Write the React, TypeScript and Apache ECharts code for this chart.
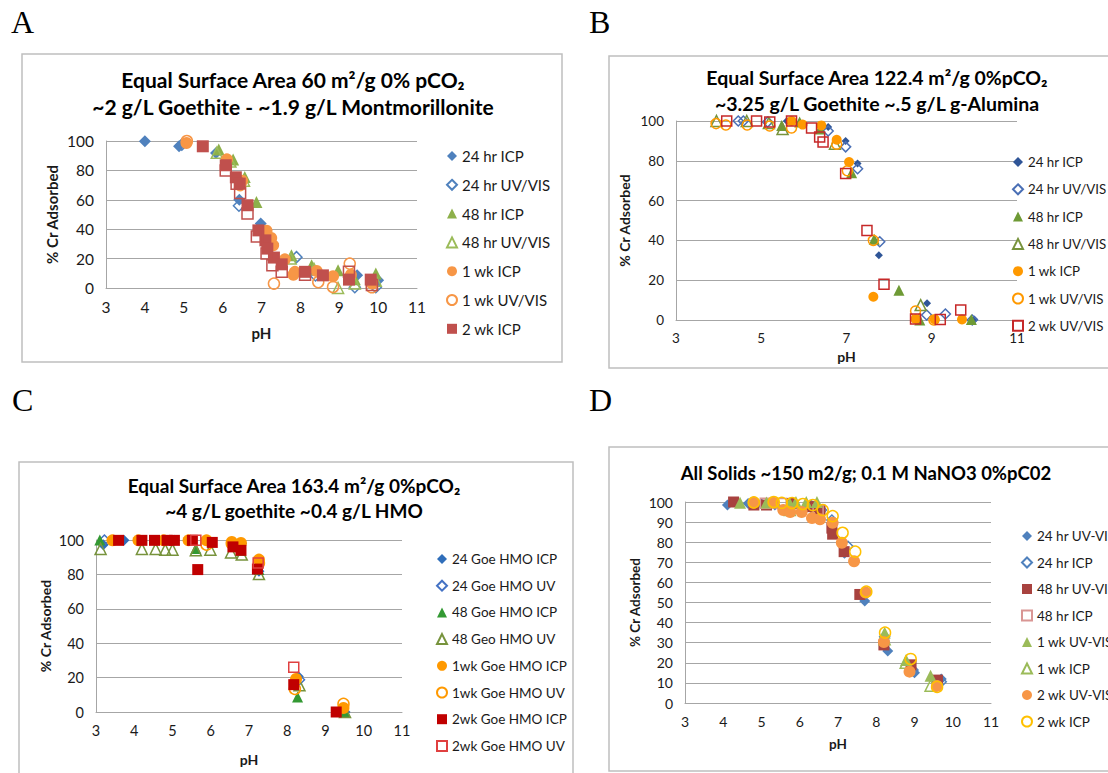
import React, { useEffect, useRef } from "react";
import * as echarts from "echarts";

// ---------- Panel A data (pH, % Cr adsorbed) ----------
const a24hrIcp = [[4.0, 99.8], [4.88, 96.4], [5.83, 91.9], [6.43, 60], [6.98, 43.8], [7.3, 30], [8.3, 12], [9.46, 8.6], [10.0, 5.2]];
const a24hrUv = [[4.95, 97.5], [6.42, 56], [7.9, 21], [8.39, 8.5], [9.4, 0.5], [9.94, 0.5]];
const a48hrIcp = [[5.9, 94.3], [6.27, 87.5], [6.57, 75.5], [6.87, 58.5], [7.77, 22.2], [8.29, 15.4], [8.97, 12], [9.4, 6], [9.94, 9.8]];
const a48hrUv = [[5.85, 92], [6.2, 86], [6.55, 73], [7.75, 20], [8.35, 13], [8.97, 0], [9.4, 3], [9.94, 5]];
const a1wkIcp = [[5.07, 98.6], [6.11, 87.5], [6.5, 73], [7.13, 39], [7.25, 34], [7.3, 29], [7.6, 19.5], [7.82, 9], [7.86, 11], [8.42, 11.6], [8.84, 8], [9.3, 9], [9.85, 3]];
const a1wkUv = [[5.08, 100], [6.45, 70], [7.32, 3], [8.46, 4], [8.84, 0.7], [9.27, 16.6], [9.84, 0.5]];
const a2wkIcp = [[5.49, 96.4], [6.08, 83.5], [6.34, 75.3], [6.44, 71], [6.64, 56.3], [6.92, 39.2], [7.1, 32.4], [7.15, 26.8], [7.32, 20.7], [7.52, 16.1], [8.12, 11], [8.58, 8.6], [9.25, 5.7], [9.81, 5.7]];
const a2wkUv = [[6.08, 80], [6.36, 71], [6.45, 64.6], [6.64, 50.7], [6.88, 35], [7.13, 23.5], [7.28, 15.4], [7.52, 11], [8.12, 9], [9.25, 11], [9.84, 2]];

// ---------- Panel B data ----------
const b24hrIcp = [[5.6, 100], [6.57, 97], [6.98, 90], [7.26, 78.6], [7.76, 32.6], [8.89, 8.4], [10.0, 0.3]];
const b24hrUv = [[4.46, 100], [4.58, 100], [5.15, 99.5], [6.57, 95], [6.98, 87], [7.26, 76], [7.78, 39.3], [8.88, 2.5], [9.32, 3], [9.95, 0]];
const b48hrIcp = [[5.48, 97.8], [5.9, 99.5], [6.38, 96], [7.12, 74], [7.65, 40.6], [8.23, 15], [8.72, 0], [9.93, 0.3]];
const b48hrUv = [[3.95, 100], [4.66, 100], [5.18, 99], [5.5, 96], [6.73, 88.6], [8.74, 7.5]];
const b1wkIcp = [[5.71, 100], [5.97, 98.2], [6.41, 97.8], [6.77, 90.6], [7.06, 79.4], [7.63, 11.7], [8.62, 0.5], [9.07, 0.3], [9.71, 0.3]];
const b1wkUv = [[3.94, 98.7], [4.17, 98], [4.67, 98], [5.2, 97.5], [5.71, 96.5], [6.77, 88.3], [7.02, 75], [7.63, 40], [8.62, 4.5], [9.05, 0]];
const b2wkUv = [[4.19, 100], [4.89, 100], [5.2, 99.5], [5.71, 100], [6.18, 96.5], [6.37, 92], [6.45, 89.5], [6.98, 73.6], [7.48, 45], [7.88, 18], [8.62, 0.5], [9.2, 0.3], [9.68, 5]];

// ---------- Panel C data ----------
const c24Icp = [[3.19, 97.3], [3.73, 99.8], [5.05, 99.8], [6.55, 97.3], [6.8, 98], [7.26, 81.8], [8.29, 20.7], [9.51, 0]];
const c24Uv = [[3.22, 100], [6.79, 98], [8.32, 18.8], [9.47, 0.4]];
const c48Icp = [[3.1, 100], [5.61, 95], [6.79, 94], [7.26, 82.8], [8.27, 8.7], [9.51, 0]];
const c48Uv = [[3.12, 94.8], [4.2, 94.8], [4.56, 94.8], [4.81, 94.4], [5.0, 94.4], [5.61, 94], [5.99, 94.4], [6.53, 92.8], [6.81, 91.5], [7.26, 80.2], [8.32, 15.5], [9.51, 0]];
const c1wkIcp = [[3.43, 99.8], [4.11, 99.8], [4.77, 99.8], [5.42, 99.8], [5.89, 99.8], [6.55, 98.8], [6.79, 98.3], [7.26, 88.6], [8.23, 19.2], [9.47, 2.3]];
const c1wkUv = [[5.89, 97.3], [6.55, 98], [7.26, 86.6], [8.2, 13.4], [9.47, 4.7]];
const c2wkIcp = [[3.59, 99.8], [4.2, 99.8], [4.53, 99.8], [4.86, 99.8], [5.05, 99.8], [5.52, 99.8], [5.66, 82.8], [6.04, 98.6], [6.58, 96], [6.79, 94], [7.22, 83.1], [8.17, 15.9], [9.28, 0]];
const c2wkUv = [[5.61, 99.8], [7.24, 86.6], [8.17, 26]];

// ---------- Panel D data ----------
const d24hrUvVis = [[4.11, 98.5], [4.65, 99.3], [5.0, 99], [5.35, 98.5], [5.8, 98], [6.3, 97], [7.17, 74.5], [7.7, 50.7], [8.3, 25.9], [9.0, 15], [9.7, 12]];
const d24hrIcp = [[4.83, 99.3], [6.3, 98.2], [6.57, 96], [6.84, 91], [7.26, 78], [8.22, 33], [8.96, 16.4], [9.7, 10.6]];
const d48hrUvVis = [[4.27, 100], [4.8, 98.5], [5.13, 98.5], [5.78, 99.3], [6.3, 97.7], [6.53, 96], [6.84, 87], [6.86, 84], [7.16, 75.3], [7.57, 54], [8.2, 28.9], [8.91, 19], [9.6, 11.4]];
const d48hrIcp = [[5.1, 99.4], [5.52, 99.3], [6.48, 96]];
const d1wkUvVis = [[4.44, 99.6], [5.13, 99.8], [5.74, 99.3], [5.9, 100], [6.17, 100], [6.45, 100], [8.22, 35], [8.78, 21.4], [9.42, 13.6]];
const d1wkIcp = [[5.74, 96], [8.22, 31.7], [8.77, 20], [9.42, 8.6]];
const d2wkUvVis = [[4.79, 99.6], [5.31, 99.6], [5.57, 96], [5.75, 95], [6.05, 95], [6.32, 92], [6.53, 91.4], [6.86, 89.7], [7.1, 79.7], [7.42, 70.5], [7.72, 55], [8.2, 30.3], [8.87, 15.6], [9.59, 8.5]];
const d2wkIcp = [[4.8, 99.8], [5.32, 100], [5.53, 99.6], [5.8, 99.5], [6.08, 99], [6.34, 98.5], [6.6, 96], [6.86, 93], [7.12, 84.7], [7.45, 75.3], [7.74, 55.4], [8.23, 35], [8.9, 21.9], [9.59, 8]];

// ---------- Labels ----------
const aNames = ["24 hr ICP", "24 hr UV/VIS", "48 hr ICP", "48 hr UV/VIS", "1 wk ICP", "1 wk UV/VIS", "2 wk ICP", "2 wk UV/VIS"];
const bNames = ["24 hr ICP", "24 hr UV/VIS", "48 hr ICP", "48 hr UV/VIS", "1 wk ICP", "1 wk UV/VIS", "2 wk UV/VIS"];
const cNames = ["24 Goe HMO ICP", "24 Goe HMO UV", "48 Goe HMO ICP", "48 Geo HMO UV", "1wk Goe HMO ICP", "1wk Goe HMO UV", "2wk Goe HMO ICP", "2wk Goe HMO UV"];
const dNames = ["24 hr UV-VIS", "24 hr ICP", "48 hr UV-VIS", "48 hr ICP", "1 wk UV-VIS", "1 wk ICP", "2 wk UV-VIS", "2 wk ICP"];

const titleA = "Equal Surface Area 60 m²/g 0% pCO₂\n~2 g/L Goethite - ~1.9 g/L Montmorillonite";
const titleB = "Equal Surface Area 122.4 m²/g 0%pCO₂\n~3.25 g/L Goethite ~.5 g/L g-Alumina";
const titleC = "Equal Surface Area 163.4 m²/g 0%pCO₂\n~4 g/L goethite ~0.4 g/L HMO";
const titleD = "All Solids ~150 m2/g; 0.1 M NaNO3 0%pC02";

const FONT = "Lato, 'Open Sans', sans-serif";
const GRID = "#a6a6a6";
const TXT = "#1a1a1a";

function sc(panel: string, name: string, idx: number, data: number[][], symbol: string, color: string, filled: boolean, size: number) {
  return {
    type: "scatter",
    name: panel + "|" + name,
    xAxisIndex: idx,
    yAxisIndex: idx,
    data,
    symbol,
    symbolSize: size,
    clip: false,
    itemStyle: filled
      ? { color, borderWidth: 0, opacity: 1 }
      : { color: "rgba(255,255,255,0)", borderColor: color, borderWidth: 1.5, opacity: 1 },
    emphasis: { disabled: true },
  };
}

function axes(idx: number, yint: number, tickFs: number, xGap: number, yGap: number, nameFs: number, oddOnly: boolean) {
  const x = {
    gridIndex: idx, type: "value", min: 3, max: 11, interval: 1,
    axisLine: { show: true, onZero: false, lineStyle: { color: GRID, width: 1 } },
    axisTick: { show: false }, splitLine: { show: false },
    axisLabel: {
      fontSize: tickFs, color: TXT, fontFamily: FONT, margin: 11,
      formatter: (v: number) => (oddOnly && v % 2 === 0 ? "" : String(v)),
    },
    name: "pH", nameLocation: "middle", nameGap: xGap,
    nameTextStyle: { fontSize: nameFs, fontWeight: "bold", fontFamily: FONT, color: TXT },
  };
  const y = {
    gridIndex: idx, type: "value", min: 0, max: 100, interval: yint,
    axisLine: { show: true, lineStyle: { color: GRID, width: 1 } },
    axisTick: { show: false },
    splitLine: { show: true, lineStyle: { color: GRID, width: 1 } },
    axisLabel: { fontSize: tickFs, color: TXT, fontFamily: FONT, margin: 12 },
    name: "% Cr Adsorbed", nameLocation: "middle", nameGap: yGap,
    nameTextStyle: { fontSize: nameFs, fontWeight: "bold", fontFamily: FONT, color: TXT },
  };
  return { x, y };
}

function legend(panel: string, names: string[], left: number, top: number, gap: number, fs: number) {
  return {
    orient: "vertical", left, top, padding: 0, itemGap: gap, itemWidth: 10, itemHeight: 10,
    selectedMode: false,
    data: names.map((n) => panel + "|" + n),
    formatter: (n: string) => n.split("|")[1],
    textStyle: { fontSize: fs, fontFamily: FONT, color: TXT, lineHeight: 16, padding: [0, 0, 0, 0] },
  };
}

function title(text: string, left: number, top: number, lh: number, fs: number) {
  return {
    text, left, top, padding: 0, textAlign: "center",
    textStyle: { fontFamily: FONT, fontWeight: "bold", fontSize: fs, lineHeight: lh, color: "#000" },
  };
}

export default function App() {
  const ref = useRef<HTMLDivElement>(null);
  useEffect(() => {
    if (!ref.current) return;
    const chart = echarts.init(ref.current, undefined, { renderer: "svg" });
    const A = axes(0, 20, 15.5, 37, 47, 15, false);
    const B = axes(1, 20, 13.5, 29, 45, 14, true);
    const C = axes(2, 20, 14.5, 40, 44, 14, false);
    const D = axes(3, 10, 14, 34, 43, 13.5, false);

    const series = [
      sc("A", aNames[0], 0, a24hrIcp, "diamond", "#4F81BD", true, 12),
      sc("A", aNames[1], 0, a24hrUv, "diamond", "#4F81BD", false, 11),
      sc("A", aNames[2], 0, a48hrIcp, "triangle", "#8DB04A", true, 12),
      sc("A", aNames[3], 0, a48hrUv, "triangle", "#9BBB59", false, 11),
      sc("A", aNames[4], 0, a1wkIcp, "circle", "#F79646", true, 12),
      sc("A", aNames[5], 0, a1wkUv, "circle", "#F79646", false, 11),
      sc("A", aNames[6], 0, a2wkIcp, "rect", "#C0504D", true, 12),
      sc("A", aNames[7], 0, a2wkUv, "rect", "#C0504D", false, 11),

      sc("B", bNames[0], 1, b24hrIcp, "diamond", "#2F5597", true, 8),
      sc("B", bNames[1], 1, b24hrUv, "diamond", "#4A6FB5", false, 10),
      sc("B", bNames[2], 1, b48hrIcp, "triangle", "#6E9A35", true, 11),
      sc("B", bNames[3], 1, b48hrUv, "triangle", "#77933C", false, 11),
      sc("B", bNames[4], 1, b1wkIcp, "circle", "#FF9900", true, 10),
      sc("B", bNames[5], 1, b1wkUv, "circle", "#FF9900", false, 10),
      sc("B", bNames[6], 1, b2wkUv, "rect", "#C62828", false, 10),

      sc("C", cNames[0], 2, c24Icp, "diamond", "#2F6EBA", true, 11),
      sc("C", cNames[1], 2, c24Uv, "diamond", "#4472C4", false, 10),
      sc("C", cNames[2], 2, c48Icp, "triangle", "#339933", true, 11),
      sc("C", cNames[3], 2, c48Uv, "triangle", "#77933C", false, 11),
      sc("C", cNames[4], 2, c1wkIcp, "circle", "#FF9900", true, 12),
      sc("C", cNames[5], 2, c1wkUv, "circle", "#FF9900", false, 11),
      sc("C", cNames[6], 2, c2wkIcp, "rect", "#C00000", true, 11),
      sc("C", cNames[7], 2, c2wkUv, "rect", "#E04040", false, 10),

      sc("D", dNames[0], 3, d24hrUvVis, "diamond", "#4F81BD", true, 11),
      sc("D", dNames[1], 3, d24hrIcp, "diamond", "#4F81BD", false, 10),
      sc("D", dNames[2], 3, d48hrUvVis, "rect", "#A8423F", true, 11),
      sc("D", dNames[3], 3, d48hrIcp, "rect", "#D99694", false, 10),
      sc("D", dNames[4], 3, d1wkUvVis, "triangle", "#9BBB59", true, 12),
      sc("D", dNames[5], 3, d1wkIcp, "triangle", "#9BBB59", false, 11),
      sc("D", dNames[6], 3, d2wkUvVis, "circle", "#F79646", true, 12),
      sc("D", dNames[7], 3, d2wkIcp, "circle", "#FFC000", false, 11),
    ];

    const border = (x: number, y: number, w: number, h: number) => ({
      type: "rect", shape: { x, y, width: w, height: h }, silent: true,
      style: { fill: "none", stroke: "#bfbfbf", lineWidth: 1.5 },
    });
    const letter = (t: string, x: number, y: number) => ({
      type: "text", x, y, silent: true,
      style: { text: t, font: "32px 'Liberation Serif', serif", fill: "#000", textVerticalAlign: "middle" },
    });

    chart.setOption({
      animation: false,
      backgroundColor: "#fff",
      title: [
        title(titleA, 293, 66, 27, 21),
        title(titleB, 877, 64, 26, 19.5),
        title(titleC, 294, 473, 25, 19),
        title(titleD, 866, 460, 26, 18.5),
      ],
      grid: [
        { left: 106, top: 141, width: 311, height: 147 },
        { left: 676, top: 121, width: 341, height: 199 },
        { left: 96, top: 540, width: 306, height: 172 },
        { left: 685, top: 502, width: 306, height: 201 },
      ],
      xAxis: [A.x, B.x, C.x, D.x],
      yAxis: [A.y, B.y, C.y, D.y],
      legend: [
        legend("A", aNames.slice(0, 7), 446, 148, 12.8, 15),
        legend("B", bNames, 1012, 154, 11.3, 13.3),
        legend("C", cNames, 436, 551, 10.7, 13.5),
        legend("D", dNames, 1021, 528, 10.5, 13.5),
      ],
      graphic: [
        border(22, 54, 540, 308),
        border(609, 56, 520, 312),
        border(19, 462, 554, 330),
        border(609, 447, 520, 324),
        letter("A", 11, 22),
        letter("B", 589, 22),
        letter("C", 12, 400),
        letter("D", 589, 400),
      ],
      series,
    });
    return () => chart.dispose();
  }, []);
  return <div ref={ref} style={{ position: "absolute", left: 0, top: 0, width: 1108, height: 773 }} />;
}
